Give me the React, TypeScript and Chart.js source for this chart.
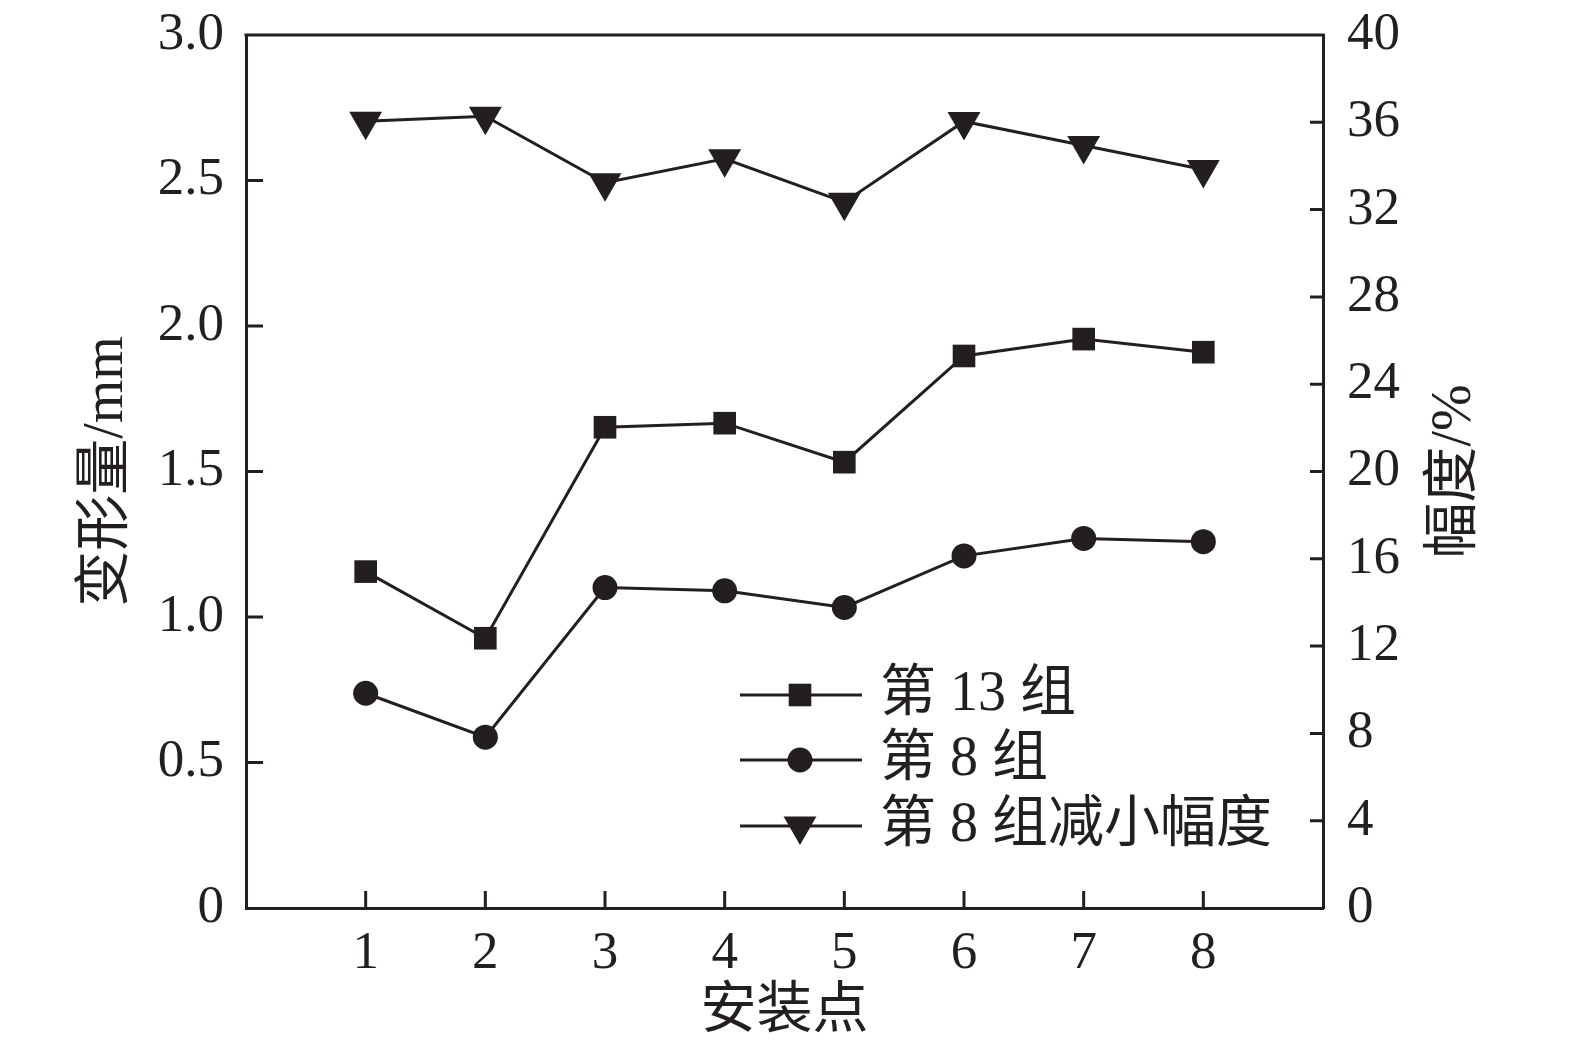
import React, { useEffect, useRef } from 'react';
import { Chart, registerables } from 'chart.js';

Chart.register(...registerables);

// ---- data ----
const installPoints = [1, 2, 3, 4, 5, 6, 7, 8];
const group13 = [1.156, 0.927, 1.652, 1.666, 1.532, 1.897, 1.955, 1.91];
const group8 = [0.738, 0.587, 1.101, 1.09, 1.033, 1.21, 1.27, 1.259];
const reduction8 = [36.05, 36.28, 33.23, 34.33, 32.34, 36.04, 34.94, 33.84];
const seriesNames = ['第 13 组', '第 8 组', '第 8 组减小幅度'];
const xTitle = '安装点';
const yTitle = '变形量/mm';
const y1Title = '幅度/%';

const INK = '#231f20';
const FONT = "'Liberation Serif', 'Noto Sans CJK SC', serif";

function drawMarker(ctx: CanvasRenderingContext2D, style: string, x: number, y: number, r: number) {
  ctx.beginPath();
  if (style === 'rect') {
    const s = Math.SQRT1_2 * r;
    ctx.rect(x - s, y - s, 2 * s, 2 * s);
  } else if (style === 'circle') {
    ctx.arc(x, y, r, 0, Math.PI * 2);
  } else {
    const h = r * Math.sqrt(3) / 2;
    ctx.moveTo(x - h, y - r / 2);
    ctx.lineTo(x + h, y - r / 2);
    ctx.lineTo(x, y + r);
    ctx.closePath();
  }
  ctx.fill();
}

const decorPlugin = {
  id: 'decor',
  afterDraw(chart: any) {
    const ctx: CanvasRenderingContext2D = chart.ctx;
    const a = chart.chartArea;
    const sx = chart.scales.x;
    const sy = chart.scales.y;
    const sr = chart.scales.y1;
    ctx.save();
    ctx.strokeStyle = INK;
    ctx.fillStyle = INK;
    ctx.lineWidth = 3;
    ctx.beginPath();
    ctx.moveTo(a.left - 1.5, a.top);
    ctx.lineTo(a.right + 1.5, a.top);
    ctx.stroke();
    ctx.beginPath();
    sy.ticks.forEach((t: any) => {
      if (t.value <= sy.min || t.value >= sy.max) return;
      const p = sy.getPixelForValue(t.value);
      ctx.moveTo(a.left, p);
      ctx.lineTo(a.left + 17, p);
    });
    sr.ticks.forEach((t: any) => {
      if (t.value <= sr.min || t.value >= sr.max) return;
      const p = sr.getPixelForValue(t.value);
      ctx.moveTo(a.right, p);
      ctx.lineTo(a.right - 13, p);
    });
    installPoints.forEach((v) => {
      const p = sx.getPixelForValue(v);
      ctx.moveTo(p, a.bottom);
      ctx.lineTo(p, a.bottom - 17);
    });
    ctx.stroke();

    ctx.font = `56px ${FONT}`;
    ctx.textAlign = 'center';
    ctx.textBaseline = 'middle';
    ctx.fillText(xTitle, (a.left + a.right) / 2, 1012);
    ctx.save();
    ctx.translate(107, (a.top + a.bottom) / 2);
    ctx.rotate(-Math.PI / 2);
    ctx.fillText(yTitle, 0, 0);
    ctx.restore();
    ctx.save();
    ctx.translate(1455, (a.top + a.bottom) / 2);
    ctx.rotate(-Math.PI / 2);
    ctx.fillText(y1Title, 0, 0);
    ctx.restore();

    const rowY = [695, 760, 826];
    const styles = ['rect', 'circle', 'triangle'];
    const radii = [16, 12.5, 19];
    ctx.textAlign = 'left';
    seriesNames.forEach((name, i) => {
      const y = rowY[i];
      ctx.lineWidth = 3;
      ctx.beginPath();
      ctx.moveTo(740, y);
      ctx.lineTo(862, y);
      ctx.stroke();
      drawMarker(ctx, styles[i], 800, y, radii[i]);
      ctx.fillText(name, 880, y);
    });
    ctx.restore();
  },
};

export default function App() {
  const ref = useRef<HTMLCanvasElement | null>(null);
  useEffect(() => {
    document.body.style.margin = '0';
    const canvas = ref.current;
    if (!canvas) return;
    const mk = (vals: number[]) => vals.map((v, i) => ({ x: installPoints[i], y: v }));
    const zeroPad = (s: any) => { s.paddingTop = 0; s.paddingBottom = 0; s.paddingLeft = 0; s.paddingRight = 0; };
    const chart = new Chart(canvas, {
      type: 'line',
      data: {
        datasets: [
          {
            label: seriesNames[0],
            data: mk(group13),
            yAxisID: 'y',
            borderColor: INK,
            backgroundColor: INK,
            borderWidth: 3,
            pointStyle: 'rect',
            pointRadius: 16,
            pointBorderWidth: 0,
            pointBackgroundColor: INK,
          },
          {
            label: seriesNames[1],
            data: mk(group8),
            yAxisID: 'y',
            borderColor: INK,
            backgroundColor: INK,
            borderWidth: 3,
            pointStyle: 'circle',
            pointRadius: 12.5,
            pointBorderWidth: 0,
            pointBackgroundColor: INK,
          },
          {
            label: seriesNames[2],
            data: mk(reduction8),
            yAxisID: 'y1',
            borderColor: INK,
            backgroundColor: INK,
            borderWidth: 3,
            pointStyle: 'triangle',
            pointRotation: 180,
            pointRadius: 19,
            pointBorderWidth: 0,
            pointBackgroundColor: INK,
          },
        ],
      },
      options: {
        animation: false,
        responsive: false,
        devicePixelRatio: 1,
        layout: { padding: { top: 35, left: 0, right: 0, bottom: 0 } },
        plugins: { legend: { display: false }, tooltip: { enabled: false } },
        elements: { line: { tension: 0 } },
        scales: {
          x: {
            type: 'linear',
            position: 'bottom',
            min: 0,
            max: 9,
            grid: { display: false, drawTicks: false },
            border: { display: true, color: INK, width: 3 },
            afterFit: (s: any) => { s.height = 147; zeroPad(s); },
            afterBuildTicks: (s: any) => { s.ticks = installPoints.map((v) => ({ value: v })); },
            ticks: {
              autoSkip: false,
              maxRotation: 0,
              padding: 14,
              color: INK,
              font: { family: FONT, size: 53 },
              callback: (v: any) => String(v),
            },
          },
          y: {
            type: 'linear',
            position: 'left',
            min: 0,
            max: 3,
            grid: { display: false, drawTicks: false },
            border: { display: true, color: INK, width: 3 },
            afterFit: (s: any) => { s.width = 246; zeroPad(s); },
            ticks: {
              stepSize: 0.5,
              padding: 22,
              color: INK,
              font: { family: FONT, size: 53 },
              callback: (v: any) => (Number(v) === 0 ? '0' : Number(v).toFixed(1)),
            },
          },
          y1: {
            type: 'linear',
            position: 'right',
            min: 0,
            max: 40,
            grid: { display: false, drawTicks: false },
            border: { display: true, color: INK, width: 3 },
            afterFit: (s: any) => { s.width = 252; zeroPad(s); },
            ticks: {
              stepSize: 4,
              padding: 24,
              color: INK,
              font: { family: FONT, size: 53 },
              callback: (v: any) => String(v),
            },
          },
        },
      },
      plugins: [decorPlugin],
    } as any);
    return () => chart.destroy();
  }, []);
  return (
    <div style={{ position: 'absolute', left: 0, top: 0, width: 1575, height: 1055, background: '#fff' }}>
      <canvas ref={ref} width={1575} height={1055} style={{ display: 'block' }} />
    </div>
  );
}
